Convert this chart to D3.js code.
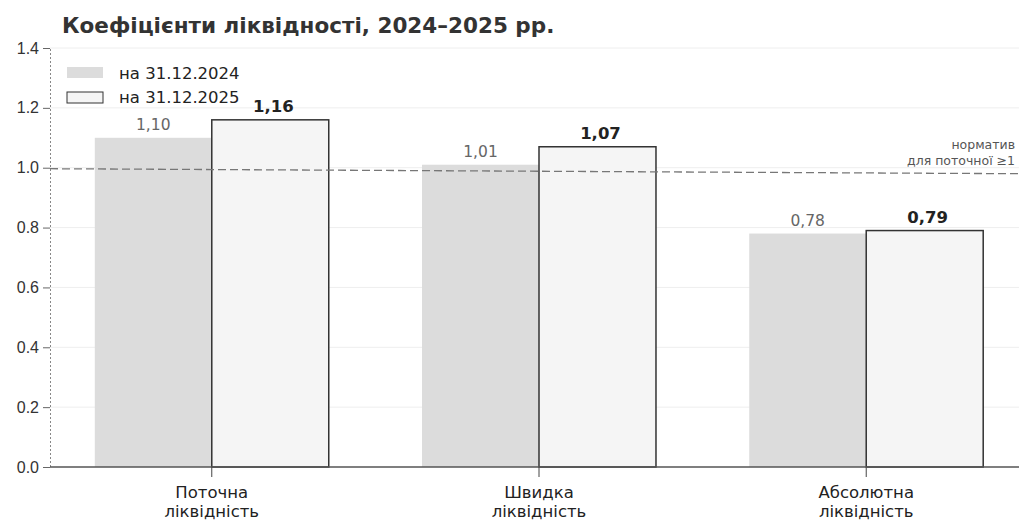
<!DOCTYPE html>
<html>
<head>
<meta charset="utf-8">
<script src="https://cdn.jsdelivr.net/npm/d3@7"></script>
<style>
  body { margin: 0; background: #fff; }
  svg { font-family: "DejaVu Sans", sans-serif; }
</style>
</head>
<body>
<div id="chart"></div>
<script>
// categories and values
var categories = [["Поточна", "ліквідність"], ["Швидка", "ліквідність"], ["Абсолютна", "ліквідність"]];
var series = ["на 31.12.2024", "на 31.12.2025"];
var values2024 = [1.10, 1.01, 0.78];
var values2025 = [1.16, 1.07, 0.79];
var yTicks = [0, 0.2, 0.4, 0.6, 0.8, 1.0, 1.2, 1.4];
var norm = 1.0;

var width = 1019, height = 524;
var margin = { top: 48, right: 0, bottom: 57, left: 50 };

var svg = d3.select("#chart").append("svg")
  .attr("width", width)
  .attr("height", height);

// scales
var keys = categories.map(function(c) { return c.join(" "); });
var x0 = d3.scaleBand()
  .domain(keys)
  .range([margin.left - 2, 1030])
  .paddingInner(0.285)
  .paddingOuter(0.143);
var x1 = d3.scaleBand()
  .domain(series)
  .range([0, x0.bandwidth()]);
var y = d3.scaleLinear()
  .domain([0, 1.4])
  .range([height - margin.bottom, margin.top]);

// title
svg.append("text")
  .attr("x", 62)
  .attr("y", 33)
  .style("font-size", "21.5px")
  .style("font-weight", "bold")
  .style("fill", "#333")
  .text("Коефіцієнти ліквідності, 2024–2025 рр.");

// faint grid
svg.append("g")
  .selectAll("line")
  .data(yTicks.slice(1))
  .enter().append("line")
  .attr("x1", margin.left)
  .attr("x2", width)
  .attr("y1", function(d) { return y(d); })
  .attr("y2", function(d) { return y(d); })
  .style("stroke", "#eeeeee");

// y axis
var yAxis = svg.append("g")
  .attr("transform", "translate(" + margin.left + ",0)")
  .call(d3.axisLeft(y).tickValues(yTicks).tickFormat(d3.format(".1f")).tickSize(7).tickPadding(4));
yAxis.select(".domain").style("stroke", "#888").style("stroke-dasharray", "2,2");
yAxis.selectAll(".tick line").style("stroke", "#666");
yAxis.selectAll(".tick text").style("font-size", "16px").style("fill", "#333");

// bars
var groups = svg.append("g")
  .selectAll("g")
  .data(keys)
  .enter().append("g")
  .attr("transform", function(d) { return "translate(" + x0(d) + ",0)"; });

groups.append("rect")
  .attr("x", x1(series[0]))
  .attr("y", function(d, i) { return y(values2024[i]); })
  .attr("width", x1.bandwidth())
  .attr("height", function(d, i) { return y(0) - y(values2024[i]); })
  .style("fill", "#dcdcdc");

groups.append("rect")
  .attr("x", x1(series[1]))
  .attr("y", function(d, i) { return y(values2025[i]); })
  .attr("width", x1.bandwidth())
  .attr("height", function(d, i) { return y(0) - y(values2025[i]); })
  .style("fill", "#f5f5f5")
  .style("stroke", "#333")
  .style("stroke-width", 1.5);

// value labels
groups.append("text")
  .attr("x", x1(series[0]) + x1.bandwidth() / 2)
  .attr("y", function(d, i) { return y(values2024[i]) - 8; })
  .attr("text-anchor", "middle")
  .style("font-size", "15.5px")
  .style("fill", "#666")
  .text(function(d, i) { return d3.format(".2f")(values2024[i]).replace(".", ","); });

groups.append("text")
  .attr("x", x1(series[1]) + x1.bandwidth() / 2 + 3)
  .attr("y", function(d, i) { return y(values2025[i]) - 8; })
  .attr("text-anchor", "middle")
  .style("font-size", "16.5px")
  .style("font-weight", "bold")
  .style("fill", "#222")
  .text(function(d, i) { return d3.format(".2f")(values2025[i]).replace(".", ","); });

// norm line
svg.append("line")
  .attr("x1", margin.left)
  .attr("x2", width)
  .attr("y1", y(norm) + 1)
  .attr("y2", y(norm) + 6)
  .style("stroke", "#777")
  .style("stroke-width", 1.3)
  .style("stroke-dasharray", "8,4");

svg.append("text")
  .attr("x", 1015)
  .attr("y", y(norm) - 19)
  .attr("text-anchor", "end")
  .style("font-size", "12.5px")
  .style("fill", "#555")
  .text("норматив");
svg.append("text")
  .attr("x", 1015)
  .attr("y", y(norm) - 3)
  .attr("text-anchor", "end")
  .style("font-size", "12.5px")
  .style("fill", "#555")
  .text("для поточної ≥1");

// x axis
var xAxis = svg.append("g")
  .attr("transform", "translate(0," + y(0) + ")")
  .call(d3.axisBottom(x0).tickSize(10).tickFormat(""));
xAxis.select(".domain").remove();
xAxis.append("line")
  .attr("x1", margin.left)
  .attr("x2", width)
  .style("stroke", "#555")
  .style("stroke-width", 1.5);
xAxis.selectAll(".tick line").style("stroke", "#444");

var catLabels = svg.append("g")
  .selectAll("text")
  .data(categories)
  .enter().append("text")
  .attr("text-anchor", "middle")
  .attr("transform", function(d, i) { return "translate(" + (x0(keys[i]) + x0.bandwidth() / 2) + "," + (y(0) + 31) + ")"; })
  .style("font-size", "16.5px")
  .style("fill", "#222");
catLabels.selectAll("tspan")
  .data(function(d) { return d; })
  .enter().append("tspan")
  .attr("x", 0)
  .attr("dy", function(d, i) { return i === 0 ? 0 : 19; })
  .text(function(d) { return d; });

// legend
var legend = svg.append("g")
  .attr("transform", "translate(67,67)");
legend.append("rect")
  .attr("width", 36).attr("height", 11)
  .style("fill", "#dcdcdc");
legend.append("text")
  .attr("x", 52).attr("y", 12)
  .style("font-size", "16.5px").style("fill", "#222")
  .text(series[0]);
legend.append("rect")
  .attr("y", 25)
  .attr("width", 36).attr("height", 11)
  .style("fill", "#f5f5f5")
  .style("stroke", "#333");
legend.append("text")
  .attr("x", 52).attr("y", 36)
  .style("font-size", "16.5px").style("fill", "#222")
  .text(series[1]);
</script>
</body>
</html>
